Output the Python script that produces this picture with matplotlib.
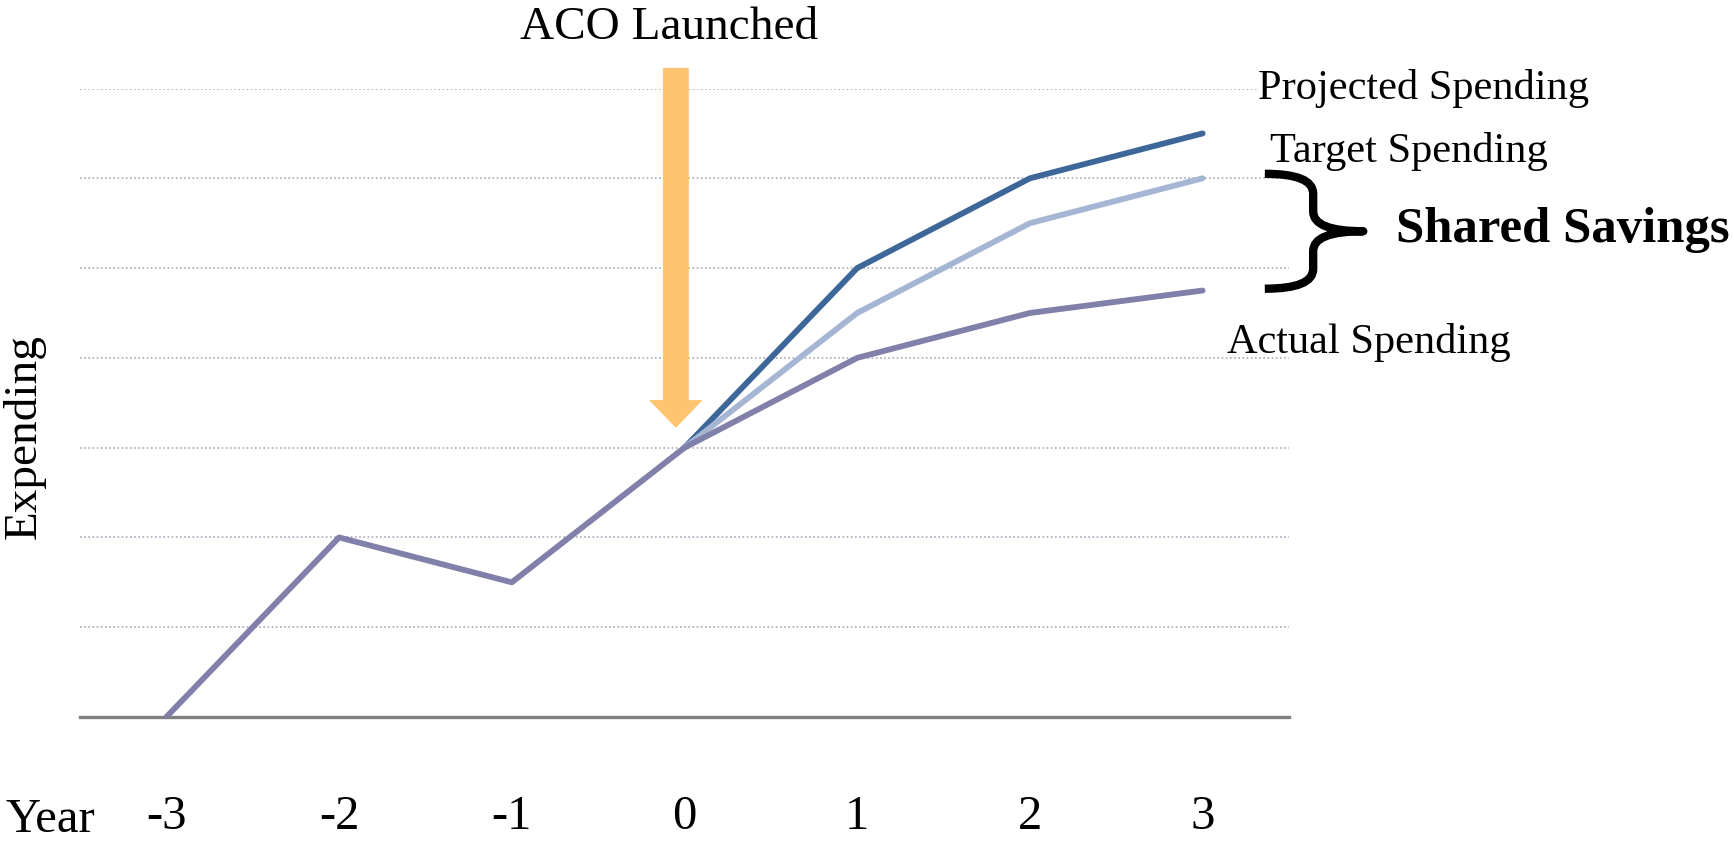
import numpy as np
import matplotlib.pyplot as plt
from matplotlib.path import Path
from matplotlib.patches import PathPatch, FancyArrow

plt.rcParams['font.family'] = ['Liberation Serif', 'DejaVu Serif']

# datos
years = [-3, -2, -1, 0, 1, 2, 3]
actual = [0, 2, 1.5, 3, 4, 4.5, 4.75]
proj_years = [0, 1, 2, 3]
projected = [3, 5, 6, 6.5]
target = [3, 4.5, 5.5, 6]

fig = plt.figure(figsize=(17.34, 8.46), dpi=100)
ax = fig.add_axes([80 / 1734, 1 - 717 / 846, (1289 - 80) / 1734, (717 - 88.5) / 846])

ax.plot(proj_years, projected, color='#3d6699', lw=4.2, solid_capstyle='round', zorder=3)
ax.plot(proj_years, target, color='#a5b6d4', lw=4.2, solid_capstyle='round', zorder=3)
ax.plot(years, actual, color='#8080aa', lw=4.2, solid_capstyle='round', zorder=4)

ax.set_xlim(-3.5, 3.5)
ax.set_ylim(0, 7)
ax.set_xticks(years)
ax.set_xticklabels([str(y) for y in years])
ax.set_yticks(range(1, 8))
ax.set_yticklabels([])
ax.tick_params(axis='x', length=0, pad=56, labelsize=35)
ax.tick_params(axis='y', length=0)
ax.grid(axis='y', color='#a9a9bd', lw=1.2, linestyle=(0, (1, 1.5)))
ax.set_axisbelow(True)
for s in ['top', 'left', 'right']:
    ax.spines[s].set_visible(False)
ax.spines['bottom'].set_color('#808080')
ax.spines['bottom'].set_linewidth(2.4)
ax.spines['bottom'].set_zorder(2)

# flecha "ACO Launched"
tip = actual[3] + 0.22
ax.add_patch(FancyArrow(-0.05, 7.23, 0, tip - 7.23, width=0.15, head_width=0.31,
                        head_length=0.31, length_includes_head=True,
                        color='#fec571', lw=0, clip_on=False, zorder=5))
ax.text(-0.09, 7.68, 'ACO Launched', fontsize=34, ha='center', va='center', clip_on=False)

# etiquetas de las series
box = dict(facecolor='white', edgecolor='none', pad=1)
ax.text(3.32, 7.0, 'Projected Spending', fontsize=30.5, ha='left', va='center', bbox=box, zorder=6)
ax.text(3.39, 6.3, 'Target Spending', fontsize=30.5, ha='left', va='center', bbox=box, zorder=6)
ax.text(3.14, 4.17, 'Actual Spending', fontsize=30.5, ha='left', va='center', clip_on=False)
ax.text(4.12, 5.42, 'Shared Savings', fontsize=36.5, fontweight='bold', ha='left', va='center', clip_on=False)

# llave
y_top = target[-1] + 0.05
y_bot = actual[-1] + 0.02
y_mid = (y_top + y_bot) / 2
xl, xv, xt, r = 3.36, 3.64, 3.93, 0.22
verts = [(xl, y_top), (xv, y_top), (xv, y_top - r),
         (xv, y_mid + r), (xv, y_mid), (xt, y_mid),
         (xv, y_mid), (xv, y_mid - r),
         (xv, y_bot + r), (xv, y_bot), (xl, y_bot)]
codes = [Path.MOVETO, Path.CURVE3, Path.CURVE3,
         Path.LINETO, Path.CURVE3, Path.CURVE3,
         Path.CURVE3, Path.CURVE3,
         Path.LINETO, Path.CURVE3, Path.CURVE3]
ax.add_patch(PathPatch(Path(verts, codes), facecolor='none', edgecolor='black',
                       lw=6, capstyle='butt', joinstyle='round', clip_on=False, zorder=6))

fig.text(6 / 1734, 4 / 846, 'Year', fontsize=35, ha='left', va='bottom')
fig.text(24 / 1734, 1 - 437 / 846, 'Expending', fontsize=34, rotation=90, ha='center', va='center')

fig.savefig('out.png', dpi=100)
